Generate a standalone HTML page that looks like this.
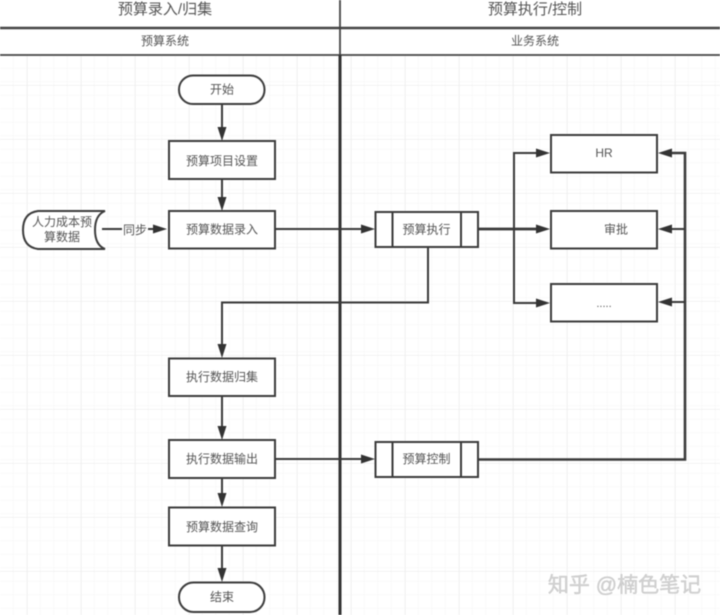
<!DOCTYPE html>
<html>
<head>
<meta charset="utf-8">
<style>
html,body{margin:0;padding:0;background:#fff;width:720px;height:615px;overflow:hidden}
svg{display:block;filter:blur(.5px)}
text{font-family:"Liberation Sans","Noto Sans CJK SC",sans-serif;fill:#555;text-anchor:middle;font-size:12px}
.b{fill:#fff;stroke:#3c3c3c;stroke-width:2}
.l{fill:none;stroke:#3a3a3a;stroke-width:2}
.a{fill:#333}
</style>
</head>
<body>
<svg width="720" height="615" viewBox="0 0 720 615" xmlns="http://www.w3.org/2000/svg">
<defs>
<pattern id="minor" width="13.5" height="13.5" patternUnits="userSpaceOnUse" x="0" y="1">
<path d="M13.5 0V13.5M0 13.5H13.5" stroke="#f5f5f5" stroke-width="1" fill="none"/>
</pattern>
<pattern id="major" width="54" height="54" patternUnits="userSpaceOnUse" x="27" y="31">
<path d="M0 0V54M0 0H54" stroke="#ececec" stroke-width="1.2" fill="none"/>
</pattern>
</defs>
<rect x="0" y="55" width="720" height="560" fill="url(#minor)"/>
<rect x="0" y="55" width="720" height="560" fill="url(#major)"/>

<!-- Swimlane header -->
<rect x="0" y="0" width="720" height="55" fill="#fff"/>
<path d="M0 28H720" stroke="#444" stroke-width="2.4"/>
<path d="M0 55H720" stroke="#444" stroke-width="1.8"/>
<path d="M340 0V55" stroke="#444" stroke-width="1.8"/>
<path d="M340 55V615" stroke="#333" stroke-width="3"/>
<text x="165" y="14" style="font-size:15px">预算录入/归集</text>
<text x="535" y="14" style="font-size:15px">预算执行/控制</text>
<text x="165" y="45">预算系统</text>
<text x="535" y="45">业务系统</text>

<!-- Connectors -->
<path class="l" d="M222 104V130"/><path class="a" d="M217.500 127H226.500L222 141Z"/>
<path class="l" d="M222 179V200"/><path class="a" d="M217.500 197H226.500L222 211Z"/>
<path class="l" d="M102 229H122M148 229H156"/><path class="a" d="M153 224.500L167 229L153 233.500Z"/>
<path class="l" d="M276 229H364" stroke-width="1.600"/><path class="a" d="M361 224.500L375 229L361 233.500Z"/>
<path class="l" d="M428 247V302.500H222V346"/><path class="a" d="M217.500 344H226.500L222 358Z"/>
<path class="l" d="M222 396V429"/><path class="a" d="M217.500 426H226.500L222 440Z"/>
<path class="l" d="M222 478V496"/><path class="a" d="M217.500 493H226.500L222 507Z"/>
<path class="l" d="M222 545V571"/><path class="a" d="M217.500 568H226.500L222 582Z"/>
<path class="l" d="M276 459H364" stroke-width="1.600"/><path class="a" d="M361 454.500L375 459L361 463.500Z"/>

<path class="l" d="M478 229H540" style="stroke-width:2.800"/>
<path class="l" d="M540 153H514V303H540"/>
<path class="a" d="M536 148.500L550 153L536 157.500Z"/>
<path class="a" d="M536 224.500L550 229L536 233.500Z"/>
<path class="a" d="M536 298.500L550 303L536 307.500Z"/>
<path class="l" d="M478 459.500H685V153H668" style="stroke-width:2.600"/>
<path class="l" d="M685 229H668M685 302H668"/>
<path class="a" d="M672 148.500L658 153L672 157.500Z"/>
<path class="a" d="M672 224.500L658 229L672 233.500Z"/>
<path class="a" d="M672 297.500L658 302L672 306.500Z"/>

<!-- Nodes -->
<rect class="b" x="179" y="75.500" width="85.500" height="28.500" rx="14" ry="14"/>
<text x="222" y="93.500">开始</text>
<rect class="b" x="169" y="141" width="106" height="38"/>
<text x="222" y="165">预算项目设置</text>
<rect class="b" x="169" y="211" width="106" height="37.500"/>
<text x="222" y="233.500">预算数据录入</text>

<path d="M105 211H38Q23 213 23 230Q23 247 38 249H105Q95 245 95 230Q95 215 105 211Z" class="b"/>
<text x="62" y="226">人力成本预</text>
<text x="62" y="241">算数据</text>
<text x="135" y="234">同步</text>

<rect class="b" x="169" y="358.500" width="106" height="37.500"/>
<text x="222" y="381">执行数据归集</text>
<rect class="b" x="169" y="440" width="106" height="38"/>
<text x="222" y="463">执行数据输出</text>
<rect class="b" x="169" y="507.500" width="106" height="38"/>
<text x="222" y="531">预算数据查询</text>
<rect class="b" x="179" y="582.500" width="85.500" height="29.500" rx="14.500" ry="14.500"/>
<text x="222" y="601">结束</text>

<rect class="b" x="375.500" y="212" width="102.500" height="35"/>
<path class="l" d="M392.500 212V247M461 212V247"/>
<text x="426.500" y="233.500">预算执行</text>
<rect class="b" x="375.500" y="442" width="102.500" height="35"/>
<path class="l" d="M392.500 442V477M461 442V477"/>
<text x="426.500" y="463">预算控制</text>

<rect class="b" x="551" y="135" width="106" height="37.500"/>
<text x="604" y="157">HR</text>
<rect class="b" x="551" y="211" width="106" height="37.500"/>
<text x="616" y="233.500">审批</text>
<rect class="b" x="551" y="284" width="106" height="37.500"/>
<text x="604" y="307" style="font-size:11px">.....</text>

<!-- Watermark -->
<text x="624.500" y="592" style="font-size:21px;fill:#d2d2d2;stroke:#bdbdbd;stroke-width:.3">知乎 @楠色笔记</text>
</svg>
</body>
</html>
